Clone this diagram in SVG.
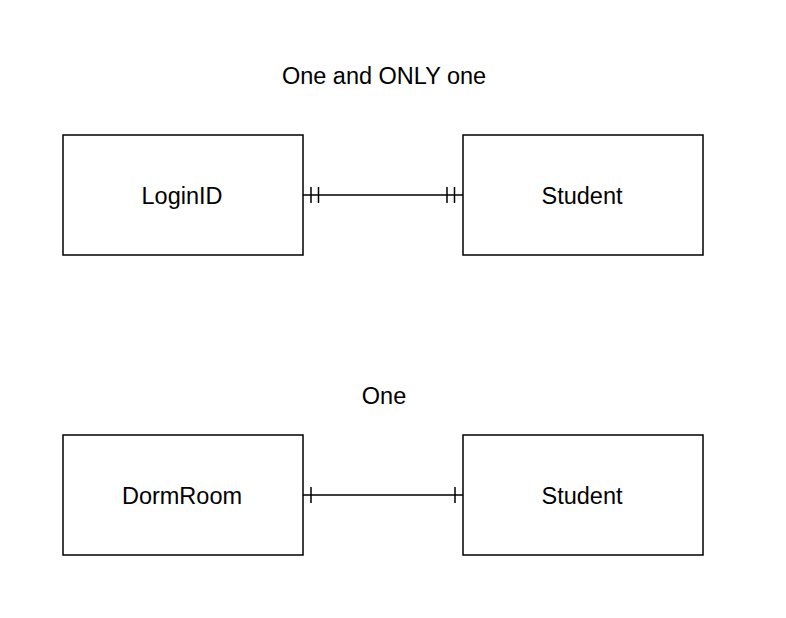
<svg xmlns="http://www.w3.org/2000/svg" width="786" height="618" viewBox="0 0 786 618">
<style>
.box{fill:#fff;stroke:#000;stroke-width:1.5}
.lbl{font-family:"Liberation Sans",Arial,sans-serif;font-size:23.5px;fill:#000;text-anchor:middle}
.ln{stroke:#000;stroke-width:1.5;fill:none}
</style>
<rect width="786" height="618" fill="#fff"/>
<text class="lbl" x="384" y="84">One and ONLY one</text>
<text class="lbl" x="384" y="404">One</text>
<g id="loginid"><rect class="box" x="63" y="135" width="240" height="120"/><text class="lbl" x="182" y="204">LoginID</text></g>
<g id="student1"><rect class="box" x="463" y="135" width="240" height="120"/><text class="lbl" x="582" y="204">Student</text></g>
<g id="dormroom"><rect class="box" x="63" y="435" width="240" height="120"/><text class="lbl" x="182" y="504">DormRoom</text></g>
<g id="student2"><rect class="box" x="463" y="435" width="240" height="120"/><text class="lbl" x="582" y="504">Student</text></g>
<g id="connectors">
<path class="ln" d="M303 195H463M311 187V203M318.5 187V203M447 187V203M454.5 187V203"/>
<path class="ln" d="M303 495H463M311 487V503M455 487V503"/>
</g>
</svg>
